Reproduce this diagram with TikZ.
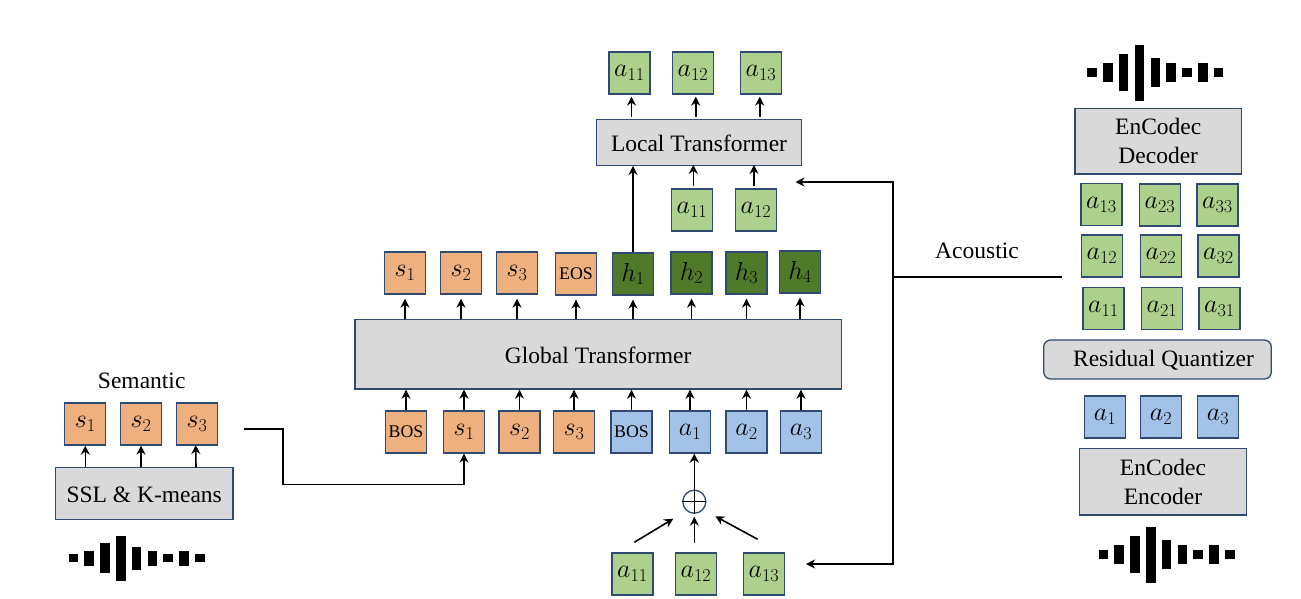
\documentclass[tikz,border=0pt]{standalone}
\usepackage{fix-cm}
\usepackage{amsmath}
\usepackage{fontspec}
\setmainfont{Liberation Serif}
\usepackage{xcolor}
\usetikzlibrary{arrows.meta, positioning}

\definecolor{edgeblue}{HTML}{2F4A73}
\definecolor{boxgray}{HTML}{D9D9D9}
\definecolor{tokgreen}{HTML}{ADD18C}
\definecolor{tokorange}{HTML}{EEB07F}
\definecolor{tokblue}{HTML}{A2C2E8}
\definecolor{tokdark}{HTML}{4F7A2A}

\newcommand{\soundwave}[3]{%
  \foreach \i/\h in {0/3.7, 1/7.5, 2/15, 3/22.5, 4/11.5, 5/7.5, 6/3.7, 7/7.5, 8/3.7} {
    \fill[black] ({#1+\i*15.83-4.8},{#2-\h*#3}) rectangle ({#1+\i*15.83+4.8},{#2+\h*#3});
  }%
}

\tikzset{
  token/.style={draw=edgeblue, line width=1.3pt, minimum width=41pt, minimum height=42pt, inner sep=0pt, font=\fontsize{26}{30}\selectfont},
  greentok/.style={token, fill=tokgreen},
  orangetok/.style={token, fill=tokorange},
  bluetok/.style={token, fill=tokblue},
  darktok/.style={token, fill=tokdark},
  smalltok/.style={font=\fontsize{17.8}{20}\selectfont},
  block/.style={draw=edgeblue, line width=1.3pt, fill=boxgray, inner sep=0pt, align=center, font=\fontsize{23.5}{29}\selectfont},
  oneline/.style={block, text height=18pt},
  caption/.style={inner sep=0pt, font=\fontsize{23.5}{29}\selectfont},
  arrow/.style={-{Stealth[length=9pt, width=9pt]}, line width=1.6pt, black},
  wire/.style={line width=1.6pt, black}
}

\begin{document}
\begin{tikzpicture}[x=1pt, y=-1pt]
    \useasboundingbox (0,0) rectangle (1301,598);

    \node[greentok] (out1) at (629.5,73) {$a_{11}$};
    \node[greentok] (out2) at (693,73) {$a_{12}$};
    \node[greentok] (out3) at (761,73) {$a_{13}$};
    \node[oneline, minimum width=204.6pt, minimum height=46pt] (local) at (699,142.3) {Local Transformer};
    \node[greentok] (mid1) at (692,210) {$a_{11}$};
    \node[greentok] (mid2) at (756,210) {$a_{12}$};

    \node[orangetok] (sout1) at (405,273) {$s_1$};
    \node[orangetok] (sout2) at (461,273) {$s_2$};
    \node[orangetok] (sout3) at (517,273) {$s_3$};
    \node[orangetok, smalltok] (eos) at (576,274) {EOS};
    \node[darktok] (h1) at (633,274) {$h_1$};
    \node[darktok] (h2) at (691.5,273) {$h_2$};
    \node[darktok] (h3) at (746.5,273) {$h_3$};
    \node[darktok] (h4) at (800,272) {$h_4$};

    \node[oneline, minimum width=486.3pt, minimum height=69.7pt] (global) at (598.2,354.2) {Global Transformer};

    \node[orangetok, smalltok] (bos1) at (406,432) {BOS};
    \node[orangetok] (sin1) at (464,432) {$s_1$};
    \node[orangetok] (sin2) at (519.5,432) {$s_2$};
    \node[orangetok] (sin3) at (574,432) {$s_3$};
    \node[bluetok, smalltok] (bos2) at (631.5,432) {BOS};
    \node[bluetok] (ain1) at (690,432) {$a_1$};
    \node[bluetok] (ain2) at (746.5,432) {$a_2$};
    \node[bluetok] (ain3) at (801,432) {$a_3$};

    \node[draw=edgeblue, line width=1.3pt, circle, minimum size=23pt, inner sep=0pt] (sum) at (694.3,501.7) {};
    \node[greentok] (low1) at (632.5,574) {$a_{11}$};
    \node[greentok] (low2) at (696,574) {$a_{12}$};
    \node[greentok] (low3) at (764,574) {$a_{13}$};

    \node[caption] (semantic) at (141.7,380.7) {Semantic};
    \node[orangetok] (sem1) at (85.3,424) {$s_1$};
    \node[orangetok] (sem2) at (141,424) {$s_2$};
    \node[orangetok] (sem3) at (197,424) {$s_3$};
    \node[oneline, minimum width=177.7pt, minimum height=52pt] (ssl) at (144.2,493.7) {SSL \& K-means};

    \node[caption] (acoustic) at (977,251) {Acoustic};

    \node[block, minimum width=166.3pt, minimum height=65.7pt] (decoder) at (1158.2,141.2) {EnCodec\\Decoder};
    \node[greentok] (q13) at (1101.5,204.7) {$a_{13}$};
    \node[greentok] (q23) at (1160,205) {$a_{23}$};
    \node[greentok] (q33) at (1217.5,205) {$a_{33}$};
    \node[greentok] (q12) at (1102,256) {$a_{12}$};
    \node[greentok] (q22) at (1161,256) {$a_{22}$};
    \node[greentok] (q32) at (1218.5,256) {$a_{32}$};
    \node[greentok] (q11) at (1103.5,308.5) {$a_{11}$};
    \node[greentok] (q21) at (1162,308.5) {$a_{21}$};
    \node[greentok] (q31) at (1219.5,308.5) {$a_{31}$};
    \node[oneline, rounded corners=7pt, minimum width=227.6pt, minimum height=39pt] (residual) at (1157.5,359.5) {\hspace{12pt}Residual Quantizer};
    \node[bluetok] (enc1) at (1105,417) {$a_1$};
    \node[bluetok] (enc2) at (1161,417) {$a_2$};
    \node[bluetok] (enc3) at (1218,417) {$a_3$};
    \node[block, minimum width=166.6pt, minimum height=66.3pt] (encoder) at (1163,481.8) {EnCodec\\Encoder};

    \soundwave{73.3}{558}{1}
    \soundwave{1092}{72.7}{1.24}
    \soundwave{1103.3}{554.7}{1.24}

    \draw[line width=1.3pt] (sum.north) -- (sum.south);
    \draw[line width=1.3pt] (sum.west) -- (sum.east);

    \draw[arrow, shorten <=2pt, shorten >=1pt] (local.north -| out1) ++(2,0) -- ++(0,-23);
    \draw[arrow, shorten <=2pt, shorten >=1pt] (local.north -| out2) ++(2.7,0) -- ++(0,-23);
    \draw[arrow, shorten <=2pt, shorten >=1pt] (local.north -| out3) ++(-1.3,0) -- ++(0,-23);
    \draw[arrow] (h1.north) -- (h1.north |- local.south);
    \draw[arrow] (mid1.north) ++(1.3,-2) -- ++(0,-21.5);
    \draw[arrow] (mid2.north) ++(-2,-2) -- ++(0,-21.5);

    \draw[arrow, shorten >=4pt] (global.north -| sout1) -- (sout1.south);
    \draw[arrow, shorten >=4pt] (global.north -| sout2) -- (sout2.south);
    \draw[arrow, shorten >=4pt] (global.north -| sout3) -- (sout3.south);
    \draw[arrow, shorten >=4pt] (global.north -| eos) -- (eos.south);
    \draw[arrow, shorten >=4pt] (global.north -| h1) -- (h1.south);
    \draw[arrow, shorten >=4pt] (global.north -| h2) -- (h2.south);
    \draw[arrow, shorten >=4pt] (global.north -| h3) -- (h3.south);
    \draw[arrow, shorten >=4pt] (global.north -| h4) -- (h4.south);

    \draw[arrow] (bos1.north) -- (global.south -| bos1);
    \draw[arrow] (sin1.north) -- (global.south -| sin1);
    \draw[arrow] (sin2.north) -- (global.south -| sin2);
    \draw[arrow] (sin3.north) -- (global.south -| sin3);
    \draw[arrow] (bos2.north) -- (global.south -| bos2);
    \draw[arrow] (ain1.north) -- (global.south -| ain1);
    \draw[arrow] (ain2.north) -- (global.south -| ain2);
    \draw[arrow] (ain3.north) -- (global.south -| ain3);

    \draw[arrow] (sum.north) -- (sum.north |- ain1.south);
    \coordinate (low1start) at (634.3,542.3);
    \coordinate (low1tip) at (673.3,518.7);
    \coordinate (low2start) at (694.3,543.3);
    \coordinate (low2tip) at (694.3,516.7);
    \coordinate (low3start) at (757.7,539.3);
    \coordinate (low3tip) at (715.3,516.3);
    \draw[arrow] (low1start) -- (low1tip);
    \draw[arrow] (low2start) -- (low2tip);
    \draw[arrow] (low3start) -- (low3tip);

    \draw[arrow] (ssl.north -| sem1) -- (sem1.south);
    \draw[arrow] (ssl.north -| sem2) -- (sem2.south);
    \draw[arrow] (ssl.north -| sem3) ++(-1,0) -- (195.7,445);

    \coordinate (semstart) at (244,429);
    \coordinate (semturn) at (283,484.3);
    \draw[arrow] (semstart) -| (semturn) -| (sin1.south);

    \coordinate (tap) at (1062,277);
    \coordinate (junction) at (893,277);
    \coordinate (localtip) at (795.5,182);
    \coordinate (lowtip) at (806,564);
    \draw[wire] (tap) -- (junction);
    \draw[arrow] (junction) |- (localtip);
    \draw[arrow] (junction) |- (lowtip);
  \end{tikzpicture}
\end{document}
